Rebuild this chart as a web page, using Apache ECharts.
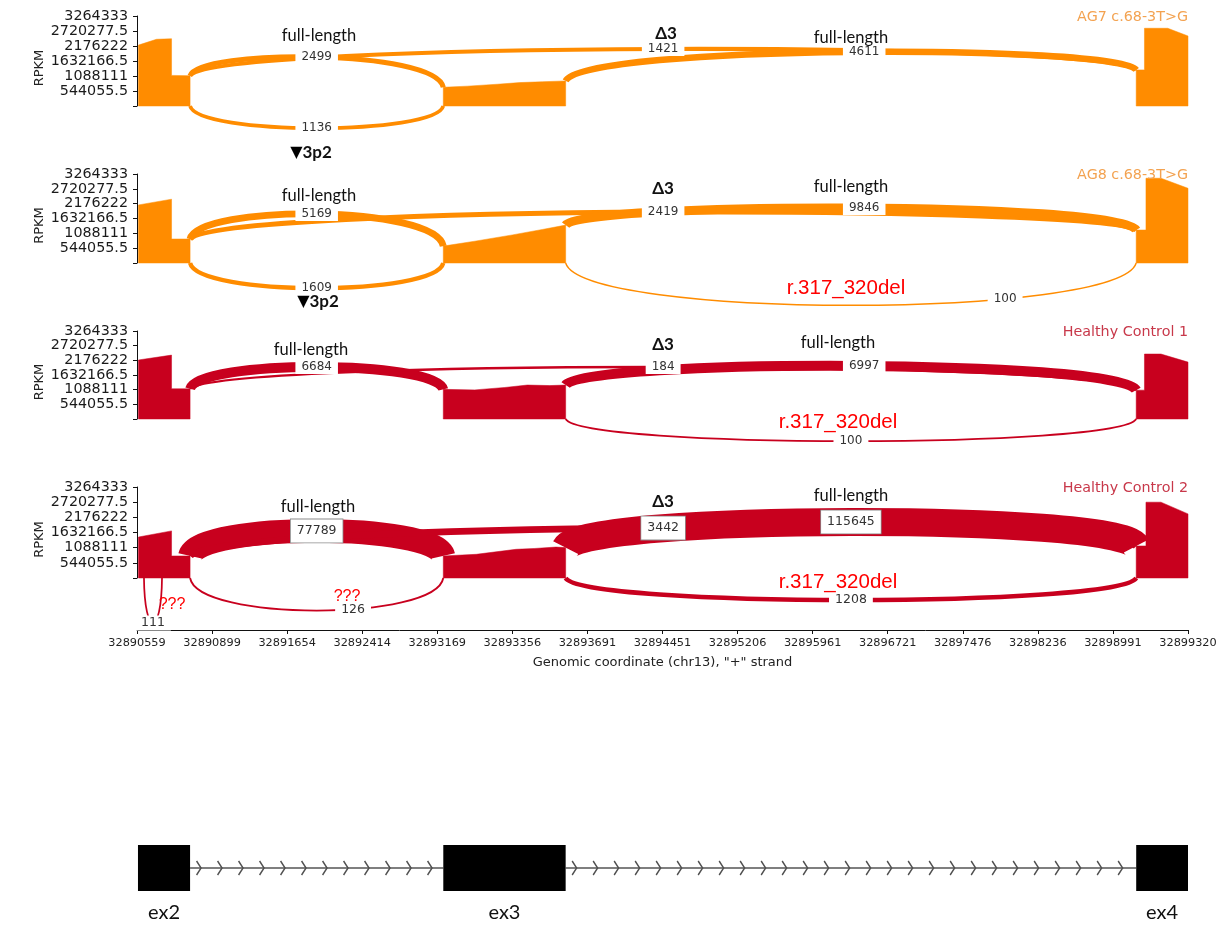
<!DOCTYPE html>
<html>
<head>
<meta charset="utf-8">
<script src="https://cdn.jsdelivr.net/npm/echarts@6/dist/echarts.min.js"></script>
<style>
  html, body { margin: 0; padding: 0; background: #fff; }
  #chart { width: 1226px; height: 925px; }
</style>
</head>
<body>
<div id="chart"></div>
<script>
// ---- tick labels of the compressed genomic axis (one axis unit per tick) ----
const xTickLabels = ['32890559', '32890899', '32891654', '32892414', '32893169', '32893356', '32893691',
  '32894451', '32895206', '32895961', '32896721', '32897476', '32898236', '32898991', '32899320'];
const yTickLabels = ['', '544055.5', '1088111', '1632166.5', '2176222', '2720277.5', '3264333'];
const yStep = 544055.5;
const yMax = 3264333;

const sampleNames = ['AG7 c.68-3T>G', 'AG8 c.68-3T>G', 'Healthy Control 1', 'Healthy Control 2'];

// exon blocks of the gene model, in axis units
const exonNames = ['ex2', 'ex3', 'ex4'];
const exonStarts = [0.013, 4.08, 13.31];
const exonEnds = [0.707, 5.71, 14.0];

// ---- coverage (RPKM), one profile per exon: [position, RPKM] ----
const coverageAG7 = [
  [[0.02, 2210000], [0.26, 2420000], [0.46, 2440000], [0.46, 1110000], [0.707, 1100000]],
  [[4.08, 680000], [4.4, 720000], [4.8, 790000], [5.1, 850000], [5.4, 880000], [5.71, 910000]],
  [[13.31, 1310000], [13.42, 1310000], [13.42, 2820000], [13.73, 2820000], [14.0, 2540000]]
];
const coverageAG8 = [
  [[0.02, 2130000], [0.46, 2340000], [0.46, 880000], [0.707, 880000]],
  [[4.08, 620000], [4.5, 800000], [5.0, 1030000], [5.4, 1230000], [5.71, 1390000]],
  [[13.31, 1210000], [13.44, 1210000], [13.44, 3110000], [13.64, 3110000], [14.0, 2740000]]
];
const coverageHC1 = [
  [[0.02, 2190000], [0.46, 2370000], [0.46, 1120000], [0.707, 1120000]],
  [[4.08, 1100000], [4.5, 1080000], [4.9, 1170000], [5.2, 1260000], [5.5, 1240000], [5.71, 1260000]],
  [[13.31, 1070000], [13.42, 1070000], [13.42, 2410000], [13.64, 2410000], [14.0, 2110000]]
];
const coverageHC2 = [
  [[0.02, 1470000], [0.46, 1690000], [0.46, 790000], [0.707, 790000]],
  [[4.08, 790000], [4.52, 850000], [5.05, 1030000], [5.3, 1060000], [5.58, 1110000], [5.71, 1090000]],
  [[13.31, 1150000], [13.44, 1150000], [13.44, 2720000], [13.64, 2720000], [14.0, 2300000]]
];

// ---- splice junctions: [donor, acceptor, read count, side (+1 above, -1 below)] ----
const junctionsAG7 = [[0.707, 4.08, 2499, 1], [0.707, 4.08, 1136, -1], [0.707, 13.31, 1421, 1], [5.71, 13.31, 4611, 1]];
const junctionsAG8 = [[0.707, 4.08, 5169, 1], [0.707, 4.08, 1609, -1], [0.707, 13.31, 2419, 1], [5.71, 13.31, 9846, 1], [5.71, 13.31, 100, -1]];
const junctionsHC1 = [[0.707, 4.08, 6684, 1], [0.707, 13.31, 184, 1], [5.71, 13.31, 6997, 1], [5.71, 13.31, 100, -1]];
const junctionsHC2 = [[0.707, 4.08, 77789, 1], [0.707, 4.08, 126, -1], [0.707, 13.31, 3442, 1], [5.71, 13.31, 115645, 1], [5.71, 13.31, 1208, -1], [0.093, 0.333, 111, -1]];

// arc peak heights (RPKM) at the arc midpoint, same order as the junctions
const arcPeakAG7 = [1780000, -800000, 2070000, 1960000];
const arcPeakAG8 = [1800000, -920000, 1870000, 2020000, -1550000];
const arcPeakHC1 = [1930000, 1930000, 1970000, -820000];
const arcPeakHC2 = [1690000, -1170000, 1790000, 2010000, -790000, -1610000];

// where along each arc its count label sits (0.5 = midpoint)
const labelAtAG7 = [0.5, 0.5, 0.5, 0.516];
const labelAtAG8 = [0.5, 0.5, 0.5, 0.516, 0.695];
const labelAtHC1 = [0.5, 0.5, 0.516, 0.5];
const labelAtHC2 = [0.5, 0.6, 0.5, 0.5, 0.5, 0.5];

// ---- layout / style per panel ----
const ORANGE = '#FF8C00';
const RED = '#C8001E';
const panels = [
  { name: sampleNames[0], color: ORANGE, titleColor: '#F3A250', cov: coverageAG7, jn: junctionsAG7, peak: arcPeakAG7, at: labelAtAG7,
    top: 16, height: 90, arcMax: 6.5, numSize: 12, boxed: false },
  { name: sampleNames[1], color: ORANGE, titleColor: '#F3A250', cov: coverageAG8, jn: junctionsAG8, peak: arcPeakAG8, at: labelAtAG8,
    top: 174, height: 89, arcMax: 9, numSize: 12, boxed: false },
  { name: sampleNames[2], color: RED, titleColor: '#C8384A', cov: coverageHC1, jn: junctionsHC1, peak: arcPeakHC1, at: labelAtHC1,
    top: 331, height: 88, arcMax: 10, numSize: 12, boxed: false },
  { name: sampleNames[3], color: RED, titleColor: '#C8384A', cov: coverageHC2, jn: junctionsHC2, peak: arcPeakHC2, at: labelAtHC2,
    top: 487, height: 91, arcMax: 28, numSize: 12.5, boxed: true }
];

const PLOT_LEFT = 137, PLOT_W = 1051;
const CTRL = 0.03; // horizontal offset of the bezier control points, as a share of the span

// coverage height at a position (used for arc end points)
function heightAt(cov, u) {
  for (const prof of cov) {
    const a = prof[0][0], b = prof[prof.length - 1][0];
    if (u < a - 1e-6 || u > b + 1e-6) continue;
    if (Math.abs(u - b) < 1e-6) return prof[prof.length - 1][1];
    if (Math.abs(u - a) < 1e-6) return prof[0][1];
    for (let i = 0; i < prof.length - 1; i++) {
      const p = prof[i], q = prof[i + 1];
      if (u >= p[0] && u <= q[0] && q[0] > p[0]) return p[1] + (q[1] - p[1]) * (u - p[0]) / (q[0] - p[0]);
    }
  }
  return 0;
}

function arcGeom(api, panel, idx) {
  const j = panel.jn[idx];
  const u0 = j[0], u1 = j[1], side = j[3];
  const h0 = side > 0 ? heightAt(panel.cov, u0) : 0;
  const h1 = side > 0 ? heightAt(panel.cov, u1) : 0;
  const p0 = api.coord([u0, h0]);
  const p3 = api.coord([u1, h1]);
  const pm = api.coord([(u0 + u1) / 2, panel.peak[idx]]);
  const dx = p3[0] - p0[0];
  const H = (pm[1] - 0.125 * (p0[1] + p3[1])) / 0.75;
  return { p0: p0, p1: [p0[0] + CTRL * dx, H], p2: [p3[0] - CTRL * dx, H], p3: p3 };
}

function bezierAt(g, t) {
  const s = 1 - t;
  const a = s * s * s, b = 3 * s * s * t, c = 3 * s * t * t, d = t * t * t;
  return [a * g.p0[0] + b * g.p1[0] + c * g.p2[0] + d * g.p3[0],
          a * g.p0[1] + b * g.p1[1] + c * g.p2[1] + d * g.p3[1]];
}

function arcWidth(panel, count) {
  const maxCount = Math.max.apply(null, panel.jn.map(function (j) { return j[2]; }));
  return Math.max(0.9, panel.arcMax * Math.pow(count / maxCount, 0.4));
}

const grids = [], xAxes = [], yAxes = [], series = [];

panels.forEach(function (panel, i) {
  grids.push({ left: PLOT_LEFT, width: PLOT_W, top: panel.top, height: panel.height, containLabel: false });
  const isLast = i === panels.length - 1;
  xAxes.push({
    gridIndex: i, type: 'value', min: 0, max: xTickLabels.length - 1, interval: 1,
    show: isLast, offset: isLast ? 52 : 0,
    axisLine: { show: true, onZero: false, lineStyle: { color: '#111', width: 1 } },
    axisTick: { show: true, inside: false, length: 4, lineStyle: { color: '#111' } },
    axisLabel: { show: true, margin: 8, fontFamily: 'DejaVu Sans', fontSize: 11.3, color: '#222', hideOverlap: false,
      formatter: function (v) { return xTickLabels[Math.round(v)] || ''; } },
    splitLine: { show: false },
    name: isLast ? 'Genomic coordinate (chr13), "+" strand' : '',
    nameLocation: 'middle', nameGap: 26,
    nameTextStyle: { fontFamily: 'DejaVu Sans', fontSize: 13, color: '#222' }
  });
  yAxes.push({
    gridIndex: i, type: 'value', min: 0, max: yMax, interval: yStep,
    axisLine: { show: true, lineStyle: { color: '#111', width: 1 } },
    axisTick: { show: true, inside: false, length: 4, lineStyle: { color: '#111' } },
    axisLabel: { margin: 9, fontFamily: 'DejaVu Sans', fontSize: 14.3, lineHeight: 12, color: '#1a1a1a',
      hideOverlap: false, showMaxLabel: true, showMinLabel: true,
      formatter: function (v) { return yTickLabels[Math.round(v / yStep)] || ''; } },
    splitLine: { show: false }
  });

  // coverage blocks
  series.push({
    type: 'custom', xAxisIndex: i, yAxisIndex: i, z: 2, silent: true, clip: false,
    data: panel.cov.map(function (prof) { return [prof[0][0], 0]; }),
    renderItem: function (params, api) {
      const prof = panel.cov[params.dataIndex];
      const pts = [api.coord([prof[0][0], 0])];
      prof.forEach(function (p) { pts.push(api.coord(p)); });
      pts.push(api.coord([prof[prof.length - 1][0], 0]));
      return { type: 'polygon', shape: { points: pts }, style: { fill: panel.color, stroke: panel.color, lineWidth: 0.5 } };
    }
  });

  // junction arcs
  series.push({
    type: 'custom', xAxisIndex: i, yAxisIndex: i, z: 3, silent: true, clip: false,
    data: panel.jn.map(function (j) { return [j[0], 0]; }),
    renderItem: function (params, api) {
      const g = arcGeom(api, panel, params.dataIndex);
      return {
        type: 'bezierCurve',
        shape: { x1: g.p0[0], y1: g.p0[1], cpx1: g.p1[0], cpy1: g.p1[1], cpx2: g.p2[0], cpy2: g.p2[1], x2: g.p3[0], y2: g.p3[1] },
        style: { stroke: panel.color, fill: null, lineWidth: arcWidth(panel, panel.jn[params.dataIndex][2]) }
      };
    }
  });

  // read-count labels on the arcs
  series.push({
    type: 'custom', xAxisIndex: i, yAxisIndex: i, z: 5, silent: true, clip: false,
    data: panel.jn.map(function (j) { return [j[0], 0]; }),
    renderItem: function (params, api) {
      const g = arcGeom(api, panel, params.dataIndex);
      const p = bezierAt(g, panel.at[params.dataIndex]);
      const w = arcWidth(panel, panel.jn[params.dataIndex][2]);
      const framed = panel.boxed && w > 6;
      const st = {
        text: String(panel.jn[params.dataIndex][2]), x: p[0], y: p[1],
        font: panel.numSize + 'px "DejaVu Sans"', fill: '#333',
        align: 'center', verticalAlign: 'middle', textAlign: 'center', textVerticalAlign: 'middle',
        backgroundColor: '#fff', padding: framed ? [5, 6] : [1, 6]
      };
      if (framed) { st.borderColor = '#8a8a8a'; st.borderWidth = 0.8; }
      return { type: 'text', style: st };
    }
  });
});

// gene model track
const gi = panels.length;
grids.push({ left: PLOT_LEFT, width: PLOT_W, top: 845, height: 46 });
xAxes.push({ gridIndex: gi, type: 'value', min: 0, max: xTickLabels.length - 1, show: false });
yAxes.push({ gridIndex: gi, type: 'value', min: 0, max: 1, show: false });
series.push({
  type: 'custom', xAxisIndex: gi, yAxisIndex: gi, z: 2, silent: true, clip: false,
  data: exonNames.map(function (n, k) { return [exonStarts[k], 0]; }),
  renderItem: function (params, api) {
    const k = params.dataIndex;
    const tl = api.coord([exonStarts[k], 1]);
    const br = api.coord([exonEnds[k], 0]);
    const children = [];
    // intron with strand chevrons up to the next exon
    if (k < exonNames.length - 1) {
      const nx = api.coord([exonStarts[k + 1], 0.5]);
      const cy = nx[1];
      children.push({ type: 'line', shape: { x1: br[0], y1: cy, x2: nx[0], y2: cy },
        style: { stroke: '#555', lineWidth: 1.4 } });
      for (let cx = br[0] + 9; cx < nx[0] - 6; cx += 21) {
        children.push({ type: 'polyline', shape: { points: [[cx - 2.5, cy - 7], [cx + 2, cy], [cx - 2.5, cy + 7]] },
          style: { stroke: '#505050', lineWidth: 1.4, fill: null } });
      }
    }
    children.push({ type: 'rect', shape: { x: tl[0], y: tl[1], width: br[0] - tl[0], height: br[1] - tl[1] },
      style: { fill: '#000' } });
    children.push({ type: 'text', style: { text: exonNames[k], x: (tl[0] + br[0]) / 2, y: br[1] + 22,
      font: '20px Lato', fill: '#111', align: 'center', verticalAlign: 'middle', textAlign: 'center', textVerticalAlign: 'middle' } });
    return { type: 'group', children: children };
  }
});

// ---- annotations ----
function txt(x, y, text, font, fill, align) {
  return { type: 'text', x: x, y: y, silent: true, z: 10,
    style: { text: text, font: font, fill: fill, align: align || 'center', verticalAlign: 'middle',
      textAlign: align || 'center', textVerticalAlign: 'middle' } };
}
function markerText(x, y) {
  return { type: 'text', x: x, y: y, silent: true, z: 10,
    style: { text: '{t|▼}{s|3p2}', align: 'center', verticalAlign: 'middle', textAlign: 'center', textVerticalAlign: 'middle',
      rich: { t: { font: '16px "DejaVu Sans"', fill: '#000' }, s: { font: 'bold 17px Lato', fill: '#111' } } } };
}
const FL = '16.5px Lato', D3 = 'bold 17px Lato', REDF = '20.5px "Liberation Sans"', Q = '16px "Liberation Sans"';
const graphics = [];
panels.forEach(function (panel) {
  const mid = panel.top + panel.height / 2 + 7;
  graphics.push({ type: 'text', x: 40, y: mid, rotation: Math.PI / 2, silent: true,
    style: { text: 'RPKM', font: '13px "DejaVu Sans"', fill: '#222', align: 'center', verticalAlign: 'middle',
      textAlign: 'center', textVerticalAlign: 'middle' } });
  graphics.push(txt(1188, panel.top + 1, panel.name, '14.3px "DejaVu Sans"', panel.titleColor, 'right'));
});
graphics.push(
  txt(319, 36, 'full-length', FL, '#111'), txt(666, 34, 'Δ3', D3, '#111'), txt(851, 38, 'full-length', FL, '#111'),
  markerText(311, 153),
  txt(319, 196, 'full-length', FL, '#111'), txt(663, 189, 'Δ3', D3, '#111'), txt(851, 187, 'full-length', FL, '#111'),
  markerText(318, 302), txt(846, 288, 'r.317_320del', REDF, '#FF0000'),
  txt(311, 350, 'full-length', FL, '#111'), txt(663, 345, 'Δ3', D3, '#111'), txt(838, 343, 'full-length', FL, '#111'),
  txt(838, 422, 'r.317_320del', REDF, '#FF0000'),
  txt(318, 507, 'full-length', FL, '#111'), txt(663, 502, 'Δ3', D3, '#111'), txt(851, 496, 'full-length', FL, '#111'),
  txt(838, 582, 'r.317_320del', REDF, '#FF0000'),
  txt(172, 605, '???', Q, '#FF0000'), txt(347, 597, '???', Q, '#FF0000')
);

const chart = echarts.init(document.getElementById('chart'), null, { renderer: 'canvas' });
chart.setOption({
  animation: false,
  backgroundColor: '#fff',
  grid: grids,
  xAxis: xAxes,
  yAxis: yAxes,
  series: series,
  graphic: { elements: graphics }
});
</script>
</body>
</html>
